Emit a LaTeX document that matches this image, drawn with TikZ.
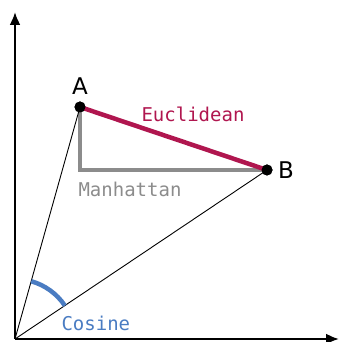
\documentclass[tikz,border=0pt]{standalone}
\usepackage{fontspec}
\setmainfont{DejaVu Sans}
\newfontfamily\monofont{DejaVu Sans Mono}
\usetikzlibrary{arrows.meta}
\definecolor{eucl}{HTML}{B0164F}
\definecolor{manh}{HTML}{8C8C8C}
\definecolor{cosc}{HTML}{4A7CC2}
\begin{document}
\begin{tikzpicture}[x=1pt,y=1pt,
  axis/.style={line width=2.2pt,-{Latex[length=13pt,width=11pt]}},
  thin/.style={line width=0.9pt},
  dot/.style={circle,fill=black,inner sep=0pt,minimum size=11pt},
  ptlabel/.style={font=\fontsize{23}{27}\selectfont},
  dlabel/.style={font=\monofont\fontsize{19}{23}\selectfont}]
\useasboundingbox (0,0) rectangle (339,342);
\coordinate (O) at (15,3);
\coordinate (Y) at (15,330);
\coordinate (X) at (339,3);
\coordinate (C) at (80,172);
\node[dot] (A) at (80,235) {};
\node[dot] (B) at (267,172) {};
\draw[manh,line width=4.5pt] (A.center) -- (C) -- (B.center);
\draw[eucl,line width=4.5pt] (A.center) -- (B.center);
\draw[thin] (O) -- (A.center);
\draw[thin] (O) -- (B.center);
\draw[cosc,line width=4.5pt] ([shift={(74.3:60)}]O) arc[start angle=74.3,end angle=33.8,radius=60];
\draw[axis] (O) -- (Y);
\draw[axis] (O) -- (X);
\node[dot] at (A) {};
\node[dot] at (B) {};
\node[ptlabel] (LA) at (80,256) {A};
\node[ptlabel] (LB) at (286,172) {B};
\node[dlabel,text=eucl] (LE) at (193,228) {Euclidean};
\node[dlabel,text=manh,anchor=west] (LM) at (75,153) {Manhattan};
\node[dlabel,text=cosc,anchor=west] (LC) at (58,19) {Cosine};
\end{tikzpicture}
\end{document}
